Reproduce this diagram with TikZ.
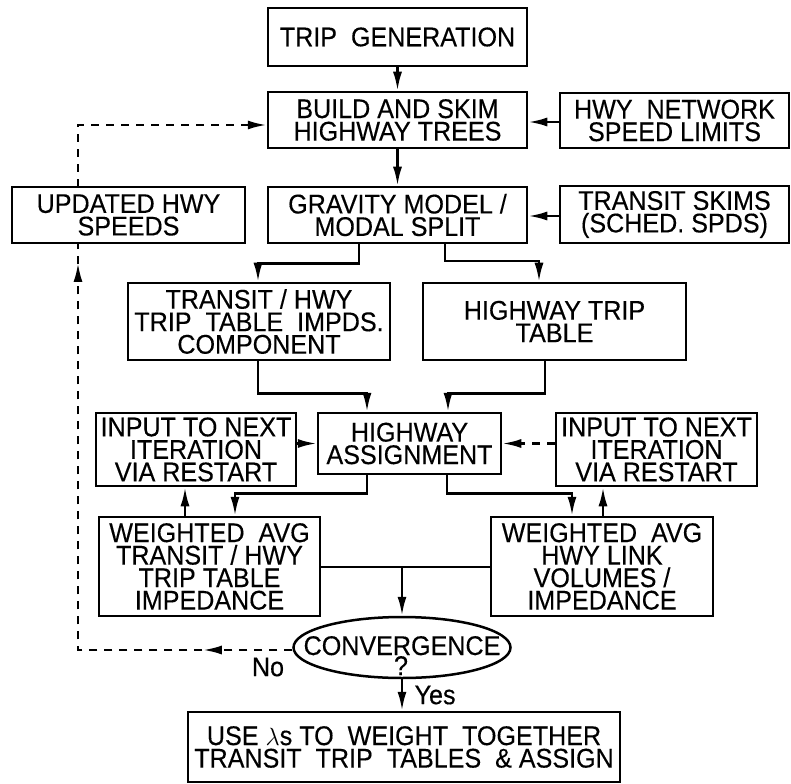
\documentclass[tikz,border=0pt]{standalone}
\usepackage{fontspec}
\setmainfont[FakeStretch=0.93, FakeBold=0.3]{Liberation Sans}
\usetikzlibrary{arrows.meta, positioning, shapes.geometric, decorations.markings}

\begin{document}
\begin{tikzpicture}[x=1pt, y=-1pt, >={Latex[length=19pt, width=9pt]},
  font=\fontsize{27}{22.5}\selectfont,
  box/.style={draw, line width=2.5pt, align=center, inner sep=0pt},
  link/.style={line width=2.5pt},
  feedback/.style={line width=2.5pt, dash pattern=on 8pt off 7pt}]
  \useasboundingbox (0,0) rectangle (791,783);
  % Horni cast
  \node[box, minimum width=259, minimum height=58] (gen) at (397.5,37) {TRIP~ GENERATION};
  \node[box, minimum width=259, minimum height=56] (build) at (397.5,120) {BUILD AND SKIM\\HIGHWAY TREES};
  \node[box, minimum width=229, minimum height=55] (net) at (674.5,120.5) {HWY~ NETWORK\\SPEED LIMITS};
  \node[box, minimum width=259, minimum height=56] (grav) at (397.5,215) {GRAVITY MODEL /\\MODAL SPLIT};
  \node[box, minimum width=233, minimum height=56] (upd) at (128.5,215) {UPDATED HWY\\SPEEDS};
  \node[box, minimum width=229, minimum height=57] (skim) at (674.5,214.5) {TRANSIT SKIMS\\(SCHED. SPDS)};
  % Tabulky
  \node[box, minimum width=262, minimum height=77] (ttab) at (259,321.5) {TRANSIT / HWY\\TRIP~ TABLE~ IMPDS.\\COMPONENT};
  \node[box, minimum width=263, minimum height=77] (htab) at (554.5,321.5) {HIGHWAY TRIP\\TABLE};
  % Prirazeni
  \node[box, minimum width=183, minimum height=61] (assign) at (409.5,443.5) {HIGHWAY\\ASSIGNMENT};
  \node[box, minimum width=200, minimum height=73] (inl) at (196,449.5) {INPUT TO NEXT\\ITERATION\\VIA RESTART};
  \node[box, minimum width=201, minimum height=73] (inr) at (656.5,449.5) {INPUT TO NEXT\\ITERATION\\VIA RESTART};
  \node[box, minimum width=221, minimum height=99] (wl) at (209.5,566.5) {WEIGHTED~ AVG\\TRANSIT / HWY\\TRIP TABLE\\IMPEDANCE};
  \node[box, minimum width=222, minimum height=99] (wr) at (602,566.5) {WEIGHTED~ AVG\\HWY LINK\\VOLUMES /\\IMPEDANCE};
  % Konvergence
  \node[ellipse, draw, line width=2.5pt, minimum width=217, minimum height=61, inner sep=0pt] (conv) at (402,647.5) {};
  \node[anchor=base, inner sep=0pt] (convtxt) at (402,655) {CONVERGENCE};
  \node[anchor=base, inner sep=0pt] (convq) at (401,675) {?};
  \node[box, minimum width=432, minimum height=70] (use) at (404,747) {USE $\lambda$s TO~ WEIGHT~ TOGETHER\\TRANSIT~ TRIP~ TABLES~ \&~ASSIGN};
  % Spoje
  \draw[link, ->] (gen) -- (build);
  \draw[link, ->] (build) -- (grav);
  \draw[link, ->] (net.west |- 0,122) -- (build.east |- 0,122);
  \draw[link, ->] (skim.west |- 0,216) -- (grav.east |- 0,216);
  \draw[link, ->] ([xshift=-38.5pt]grav.south) -- ++(0,19) -| ([xshift=-1pt]ttab.north);
  \draw[link, ->] ([xshift=47.5pt]grav.south) -- ++(0,17) -| ([xshift=-15.5pt]htab.north);
  \draw[link, ->] ([xshift=-1pt]ttab.south) -- ++(0,32) -| ([xshift=-42.5pt]assign.north);
  \draw[link, ->] ([xshift=-9.5pt]htab.south) -- ++(0,32) -| ([xshift=38.5pt]assign.north);
  \draw[link, ->] (inl.east |- assign) -- (assign.west);
  \draw[feedback, ->] (inr.west |- assign) -- (assign.east);
  \draw[link, ->] ([xshift=-42.5pt]assign.south) -- ++(0,18) -| ([xshift=25.5pt]wl.north);
  \draw[link, ->] ([xshift=37.5pt]assign.south) -- ++(0,18) -| ([xshift=-30pt]wr.north);
  \draw[link, ->] ([xshift=-24.5pt]wl.north) -- ([xshift=-24.5pt]wl.north |- inl.south);
  \draw[link, ->] ([xshift=1pt]wr.north) -- ([xshift=1pt]wr.north |- inl.south);
  \draw[link] (wl.east |- 0,567) -- (wr.west |- 0,567);
  \draw[link, ->] (conv.north |- 0,567) -- (conv.north);
  \draw[link, ->] (conv.south) -- (conv.south |- use.north) node[midway, right=8pt] {Yes};
  % Zpetna vazba
  \draw[feedback, postaction={decorate, decoration={markings,
      mark=at position 0.144 with {\arrow{>}},
      mark=at position 0.968 with {\arrow{>}}}}]
    (conv.west |- 0,650) -| (78,243) coordinate (fbend);
  \node (no) at (268,667) {No};
  \draw[feedback, ->] (78,187) |- ([yshift=-5pt]build.west);
\end{tikzpicture}
\end{document}
